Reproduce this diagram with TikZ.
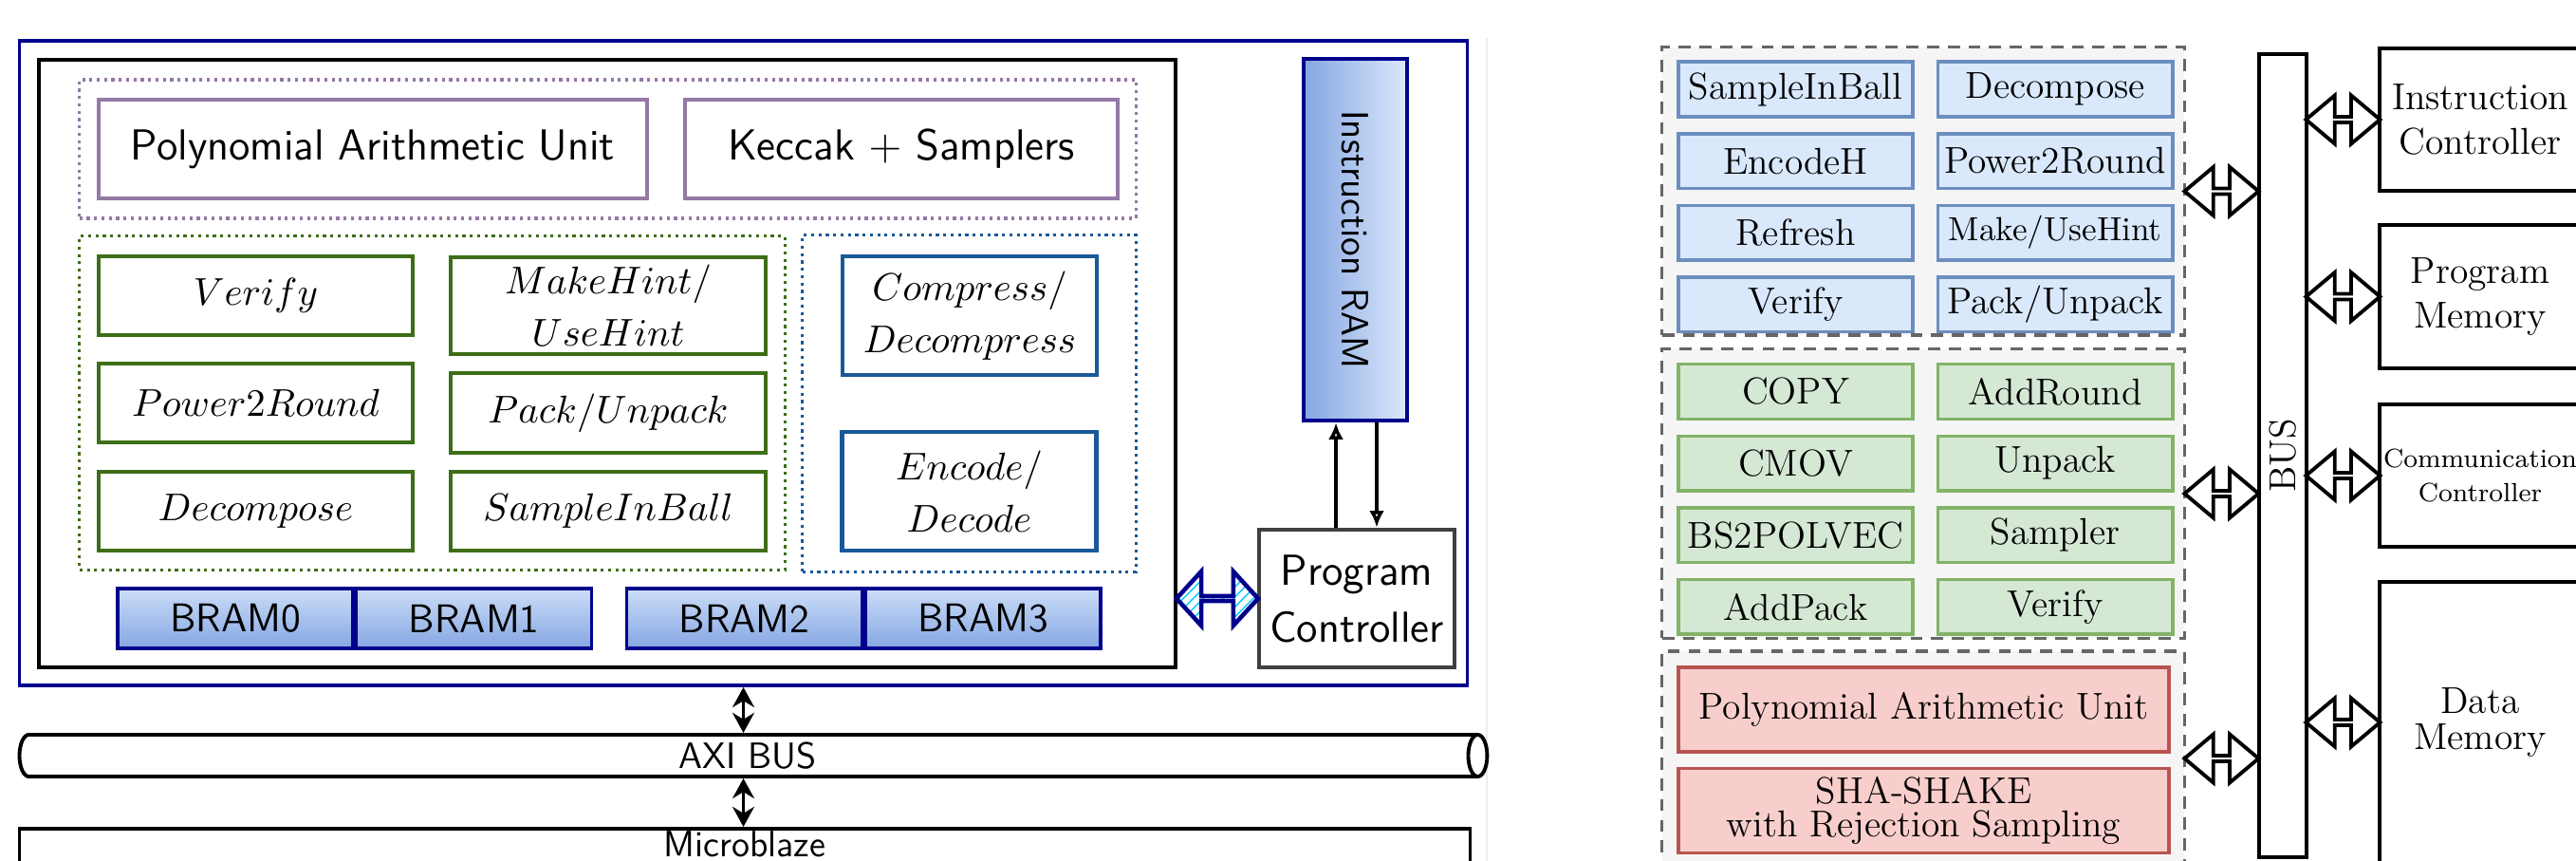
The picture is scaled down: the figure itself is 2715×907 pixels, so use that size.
\documentclass[tikz,border=0pt]{standalone}
\usepackage{fix-cm}
\usepackage{fontspec}
\usetikzlibrary{arrows.meta, calc, positioning, shapes.geometric, shapes.arrows, patterns}
\definecolor{frameblue}{rgb}{0.0, 0.0, 0.55}
\definecolor{unitpurple}{rgb}{0.58, 0.47, 0.65}
\definecolor{unitgreen}{rgb}{0.24, 0.43, 0.09}
\definecolor{unitblue}{rgb}{0.10, 0.35, 0.60}
\definecolor{bramtop}{rgb}{0.80, 0.87, 0.97}
\definecolor{brambot}{rgb}{0.52, 0.65, 0.89}
\definecolor{pcgray}{rgb}{0.25, 0.25, 0.25}
\definecolor{grpgray}{rgb}{0.40, 0.40, 0.40}
\definecolor{grpfill}{rgb}{0.96, 0.96, 0.96}
\definecolor{dioblue}{HTML}{DAE8FC}
\definecolor{diobluedraw}{HTML}{6C8EBF}
\definecolor{diogreen}{HTML}{D5E8D4}
\definecolor{diogreendraw}{HTML}{82B366}
\definecolor{diored}{HTML}{F8CECC}
\definecolor{dioreddraw}{HTML}{B85450}

\begin{document}
\begin{tikzpicture}[x=0.01cm, y=-0.01cm,
	blkframe/.style={draw, line width=1.1pt, inner sep=0pt},
	dotgrp/.style={line width=0.9pt, dash pattern=on 0.9pt off 1.3pt, inner sep=0pt},
	sftext/.style={font=\sffamily\fontsize{13}{16}\selectfont, align=center},
	mtext/.style={font=\fontsize{11.6}{15.6}\selectfont, align=center},
	pubox/.style={draw=unitpurple, line width=1.3pt, inner sep=0pt, minimum height=1.04cm, sftext},
	grbox/.style={draw=unitgreen, line width=1.3pt, inner sep=0pt, minimum width=3.31cm, minimum height=0.83cm, mtext},
	blbox/.style={draw=unitblue, line width=1.3pt, inner sep=0pt, minimum width=2.68cm, minimum height=1.25cm, mtext},
	bram/.style={draw=frameblue, line width=1pt, top color=bramtop, bottom color=brambot, minimum width=2.48cm, minimum height=0.63cm, inner sep=0pt, font=\sffamily\fontsize{12}{15}\selectfont},
	dashgrp/.style={draw=grpgray, fill=grpfill, line width=0.9pt, dash pattern=on 3.6pt off 2.6pt, inner sep=0pt, minimum width=5.50cm},
	fnbox/.style={line width=1pt, inner sep=0pt, minimum width=2.47cm, minimum height=0.575cm, font=\fontsize{11.2}{13.5}\selectfont},
	fblue/.style={fnbox, draw=diobluedraw, fill=dioblue},
	fgreen/.style={fnbox, draw=diogreendraw, fill=diogreen},
	fred/.style={fnbox, draw=dioreddraw, fill=diored, minimum width=5.17cm, minimum height=0.89cm, align=center},
	sysbox/.style={draw, line width=1.2pt, inner sep=0pt, minimum width=2.12cm, align=center, font=\fontsize{11.2}{13.5}\selectfont},
	busarrow/.style={double arrow, draw, line width=1.1pt, fill=white, inner sep=0pt, minimum width=0.51cm, minimum height=0.78cm, double arrow head extend=0.145cm, double arrow tip angle=80}]

	\useasboundingbox (0,0) rectangle (2715,907);
	\clip (0,0) rectangle (2715,907);

	% left: accelerator
	\draw[gray!15, line width=0.6pt] (1567,40) -- (1567,907);
	\node[draw=frameblue, line width=1pt, inner sep=0pt, minimum width=15.25cm, minimum height=6.79cm] (fpga) at (783.5,382.5) {};
	\node[blkframe, minimum width=11.98cm, minimum height=6.40cm] (core) at (640,383) {};

	\node[dotgrp, draw=unitpurple, minimum width=11.13cm, minimum height=1.46cm] (purplegrp) at (640.5,157) {};
	\node[pubox, minimum width=5.78cm] (pau) at (393,157) {Polynomial Arithmetic Unit};
	\node[pubox, minimum width=4.56cm] (keccak) at (950,157) {Keccak $+$ Samplers};

	\node[dotgrp, draw=unitgreen, minimum width=7.43cm, minimum height=3.51cm] (greengrp) at (455.5,424.5) {};
	\node[grbox] (verifybox) at (269.5,311.5) {$Verify$};
	\node[grbox, minimum width=3.32cm, minimum height=1.02cm] (makehint) at (641,322) {$MakeHint/$\\$UseHint$};
	\node[grbox] (p2r) at (269.5,424.5) {$Power2Round$};
	\node[grbox, minimum width=3.32cm, minimum height=0.84cm] (packunpack) at (641,435) {$Pack/Unpack$};
	\node[grbox] (decomp) at (269.5,538.5) {$Decompose$};
	\node[grbox, minimum width=3.32cm] (sib) at (641,538.5) {$SampleInBall$};

	\node[dotgrp, draw=unitblue, minimum width=3.51cm, minimum height=3.54cm] (bluegrp) at (1021.5,425) {};
	\node[blbox] (compress) at (1022,332.5) {$Compress/$\\$Decompress$};
	\node[blbox] (encode) at (1021.5,517.5) {$Encode/$\\$Decode$};

	\node[bram] (bram0) at (248,651.5) {BRAM0};
	\node[bram, right=0pt of bram0] (bram1) {BRAM1};
	\node[bram] (bram2) at (784.5,651.5) {BRAM2};
	\node[bram, right=0pt of bram2] (bram3) {BRAM3};

	\node[draw=frameblue, line width=1.2pt, left color=brambot, right color=bramtop!70!white, inner sep=0pt, minimum width=1.09cm, minimum height=3.81cm] (iram) at (1428.5,252.5) {};
	\node[font=\sffamily\fontsize{11.4}{14}\selectfont, rotate=-90] (iramtext) at (iram.center) {Instruction RAM};
	\node[draw=pcgray, line width=1.3pt, inner sep=0pt, minimum width=2.06cm, minimum height=1.45cm, font=\sffamily\fontsize{13}{17}\selectfont, align=center] (pc) at (1430,630.5) {Program\\Controller};

	\draw[-{Latex[open, length=5pt, width=4.5pt]}, line width=1.2pt] ($(pc.north)-(22,0)$) -- ($(iram.south)-(20.5,0)$);
	\draw[-{Latex[open, length=5pt, width=4.5pt]}, line width=1.2pt] ($(iram.south)+(22.5,0)$) -- ($(pc.north)+(21,0)$);
	\node[double arrow, draw=frameblue, line width=1.3pt, pattern=north east lines, pattern color=cyan!80!blue, inner sep=0pt, minimum width=0.57cm, minimum height=0.86cm, double arrow head extend=0.22cm, double arrow tip angle=95] (pclink) at ($(pc.west)!0.5!(pc.west -| core.east)$) {};

	\node[cylinder, draw, line width=1.1pt, aspect=0.7, shape border rotate=0, inner sep=0pt, minimum width=0.44cm, minimum height=15.46cm, font=\sffamily\fontsize{11}{13}\selectfont] (axi) at (788,796) {AXI BUS};
	\node[blkframe, minimum width=15.28cm, minimum height=0.87cm] (mblaze) at (785,916.5) {};
	\node[anchor=north, inner sep=1pt, font=\sffamily\fontsize{11}{13}\selectfont] (mblazetext) at (mblaze.north) {Microblaze};

	\draw[{Stealth[length=6pt, width=6.5pt]}-{Stealth[length=6pt, width=6.5pt]}, line width=1pt] (fpga.south) -- (fpga.south |- axi.north);
	\draw[{Stealth[length=6pt, width=6.5pt]}-{Stealth[length=6pt, width=6.5pt]}, line width=1pt] (fpga.south |- axi.south) -- (fpga.south |- mblaze.north);

	% right: processor
	\node[dashgrp, minimum height=3.03cm] (fbluegrp) at (2027,201.5) {};
	\node[dashgrp, minimum height=3.04cm] (fgreengrp) at (2027,520) {};
	\node[dashgrp, minimum height=2.26cm] (fredgrp) at (2027,799) {};

	\node[fblue] (fsib) at (1892.5,94) {SampleInBall};
	\node[fblue, right=0.23cm of fsib] (fdecomp) {Decompose};
	\node[fblue, below=0.145cm of fsib] (fench) {EncodeH};
	\node[fblue, right=0.23cm of fench] (fp2r) {Power2Round};
	\node[fblue, below=0.145cm of fench] (frefresh) {Refresh};
	\node[fblue, right=0.23cm of frefresh, font=\fontsize{10}{12}\selectfont] (fhint) {Make/UseHint};
	\node[fblue, below=0.145cm of frefresh] (fverify) {Verify};
	\node[fblue, right=0.23cm of fverify] (fpack) {Pack/Unpack};

	\node[fgreen] (fcopy) at (1892.5,412.5) {COPY};
	\node[fgreen, right=0.23cm of fcopy] (faddround) {AddRound};
	\node[fgreen, below=0.145cm of fcopy] (fcmov) {CMOV};
	\node[fgreen, right=0.23cm of fcmov] (funpack) {Unpack};
	\node[fgreen, below=0.145cm of fcmov] (fbs) {BS2POLVEC};
	\node[fgreen, right=0.23cm of fbs] (fsampler) {Sampler};
	\node[fgreen, below=0.145cm of fbs] (faddpack) {AddPack};
	\node[fgreen, right=0.23cm of faddpack] (fverify2) {Verify};

	\node[fred] (fpau) at (2027.5,747.5) {Polynomial Arithmetic Unit};
	\node[fred, below=0.14cm of fpau, font=\fontsize{11.2}{10}\selectfont] (fsha) {SHA-SHAKE\\with Rejection Sampling};

	\node[draw, line width=1.1pt, inner sep=0pt, minimum width=0.50cm, minimum height=8.46cm] (bus) at (2406,480) {};
	\node[rotate=90, font=\fontsize{11.2}{13.5}\selectfont] (bustext) at (bus.center) {BUS};

	\node[sysbox, minimum height=1.50cm] (instctrl) at (2614,126) {Instruction\\Controller};
	\node[sysbox, minimum height=1.51cm] (progmem) at (2614,312.5) {Program\\Memory};
	\node[sysbox, minimum height=1.50cm, font=\fontsize{7.9}{10.5}\selectfont] (commctrl) at (2614,501) {Communication\\Controller};
	\node[sysbox, minimum height=2.97cm, font=\fontsize{11.2}{10.8}\selectfont] (datamem) at (2614,761.5) {Data\\Memory};

	\node[busarrow] (barrow1) at ($(fbluegrp.east)!0.5!(fbluegrp.east -| bus.west)$) {};
	\node[busarrow] (barrow2) at ($(fgreengrp.east)!0.5!(fgreengrp.east -| bus.west)$) {};
	\node[busarrow] (barrow3) at ($(fredgrp.east)!0.5!(fredgrp.east -| bus.west)$) {};
	\node[busarrow] (sarrow1) at ($(instctrl.west)!0.5!(instctrl.west -| bus.east)$) {};
	\node[busarrow] (sarrow2) at ($(progmem.west)!0.5!(progmem.west -| bus.east)$) {};
	\node[busarrow] (sarrow3) at ($(commctrl.west)!0.5!(commctrl.west -| bus.east)$) {};
	\node[busarrow] (sarrow4) at ($(datamem.west |- 0,761)!0.5!(bus.east |- 0,761)$) {};
\end{tikzpicture}
\end{document}
